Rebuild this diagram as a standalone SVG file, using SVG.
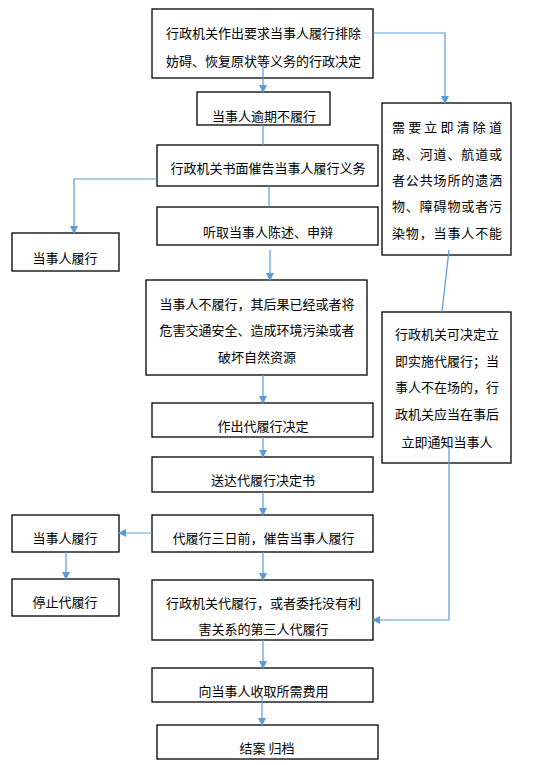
<svg xmlns="http://www.w3.org/2000/svg" width="558" height="765" viewBox="0 0 558 765">
<style>
.box{fill:#fff;stroke:#000;stroke-width:1.3}
.t{font-family:"Noto Sans CJK SC","Noto Sans",sans-serif;font-size:13px;fill:#000;dominant-baseline:central}
.m{text-anchor:middle}
.c{fill:none;stroke:#5B9BD5;stroke-width:1.2}
.ca{fill:none;stroke:#5B9BD5;stroke-width:1.2;marker-end:url(#ah)}
</style>
<defs>
<marker id="ah" markerUnits="userSpaceOnUse" markerWidth="9" markerHeight="8" refX="7" refY="4" orient="auto">
<path d="M0,0 L8,4 L0,8 Z" fill="#5B9BD5"/>
</marker>
</defs>
<rect width="558" height="765" fill="#fff"/>
<g id="nodes">
<g id="n1"><rect class="box" x="152" y="9" width="221" height="69"/>
<text class="t m" x="263.5" y="32">行政机关作出要求当事人履行排除</text>
<text class="t m" x="263.5" y="60">妨碍、恢复原状等义务的行政决定</text></g>
<g id="n2"><rect class="box" x="197" y="92" width="133" height="33"/>
<text class="t m" x="264" y="115">当事人逾期不履行</text></g>
<g id="n3"><rect class="box" x="157" y="145" width="221" height="41"/>
<text class="t m" x="268" y="167">行政机关书面催告当事人履行义务</text></g>
<g id="n4"><rect class="box" x="157" y="207" width="221" height="38"/>
<text class="t m" x="268" y="231">听取当事人陈述、申辩</text></g>
<g id="n5"><rect class="box" x="146" y="280" width="221" height="95"/>
<text class="t m" x="257" y="303">当事人不履行，其后果已经或者将</text>
<text class="t m" x="257" y="329">危害交通安全、造成环境污染或者</text>
<text class="t m" x="257" y="356">破坏自然资源</text></g>
<g id="nA"><rect class="box" x="382" y="103" width="129" height="152"/>
<text class="t" x="392" y="126" textLength="110" lengthAdjust="spacing">需要立即清除道</text>
<text class="t" x="392" y="153" textLength="110" lengthAdjust="spacing">路、河道、航道或</text>
<text class="t" x="392" y="179" textLength="110" lengthAdjust="spacing">者公共场所的遗洒</text>
<text class="t" x="392" y="205" textLength="110" lengthAdjust="spacing">物、障碍物或者污</text>
<text class="t" x="392" y="232" textLength="110" lengthAdjust="spacing">染物，当事人不能</text></g>
<g id="nB"><rect class="box" x="382" y="312" width="129" height="151"/>
<text class="t" x="395" y="333">行政机关可决定立</text>
<text class="t" x="395" y="360">即实施代履行；当</text>
<text class="t" x="395" y="386">事人不在场的，行</text>
<text class="t" x="395" y="413">政机关应当在事后</text>
<text class="t m" x="447" y="441">立即通知当事人</text></g>
<g id="nL1"><rect class="box" x="12" y="233" width="107" height="38"/>
<text class="t m" x="65" y="257">当事人履行</text></g>
<g id="n6"><rect class="box" x="152" y="403" width="221" height="34"/>
<text class="t m" x="263" y="425">作出代履行决定</text></g>
<g id="n7"><rect class="box" x="152" y="457" width="221" height="35"/>
<text class="t m" x="263" y="479">送达代履行决定书</text></g>
<g id="n8"><rect class="box" x="152" y="515" width="221" height="37"/>
<text class="t m" x="263.5" y="537">代履行三日前，催告当事人履行</text></g>
<g id="nL2"><rect class="box" x="12" y="515" width="107" height="37"/>
<text class="t m" x="65" y="537">当事人履行</text></g>
<g id="nL3"><rect class="box" x="12" y="579" width="107" height="37"/>
<text class="t m" x="65" y="601">停止代履行</text></g>
<g id="n9"><rect class="box" x="152" y="580" width="221" height="60"/>
<text class="t m" x="263.5" y="602">行政机关代履行，或者委托没有利</text>
<text class="t m" x="263.5" y="628">害关系的第三人代履行</text></g>
<g id="n10"><rect class="box" x="152" y="668" width="221" height="34"/>
<text class="t m" x="263.5" y="690">向当事人收取所需费用</text></g>
<g id="n11"><rect class="box" x="157" y="725" width="221" height="34"/>
<text class="t m" x="267" y="747">结案 归档</text></g>
</g>
<g id="connectors">
<path class="ca" d="M263,64 V92"/>
<path class="ca" d="M373,33 H445 V103"/>
<path class="c" d="M263,125 V145"/>
<path class="ca" d="M157,179 H74 V233"/>
<path class="c" d="M269,186 V207"/>
<path class="ca" d="M270,250 V280"/>
<path class="c" d="M449,250 L442,312"/>
<path class="ca" d="M263,375 V403"/>
<path class="ca" d="M263,437 V457"/>
<path class="ca" d="M263,492 V515"/>
<path class="ca" d="M152,533 H119"/>
<path class="ca" d="M66,552 V579"/>
<path class="ca" d="M263,552 V580"/>
<path class="ca" d="M449,447 V620 H373"/>
<path class="ca" d="M263,640 V668"/>
<path class="ca" d="M262,697 V725"/>
</g>
</svg>
